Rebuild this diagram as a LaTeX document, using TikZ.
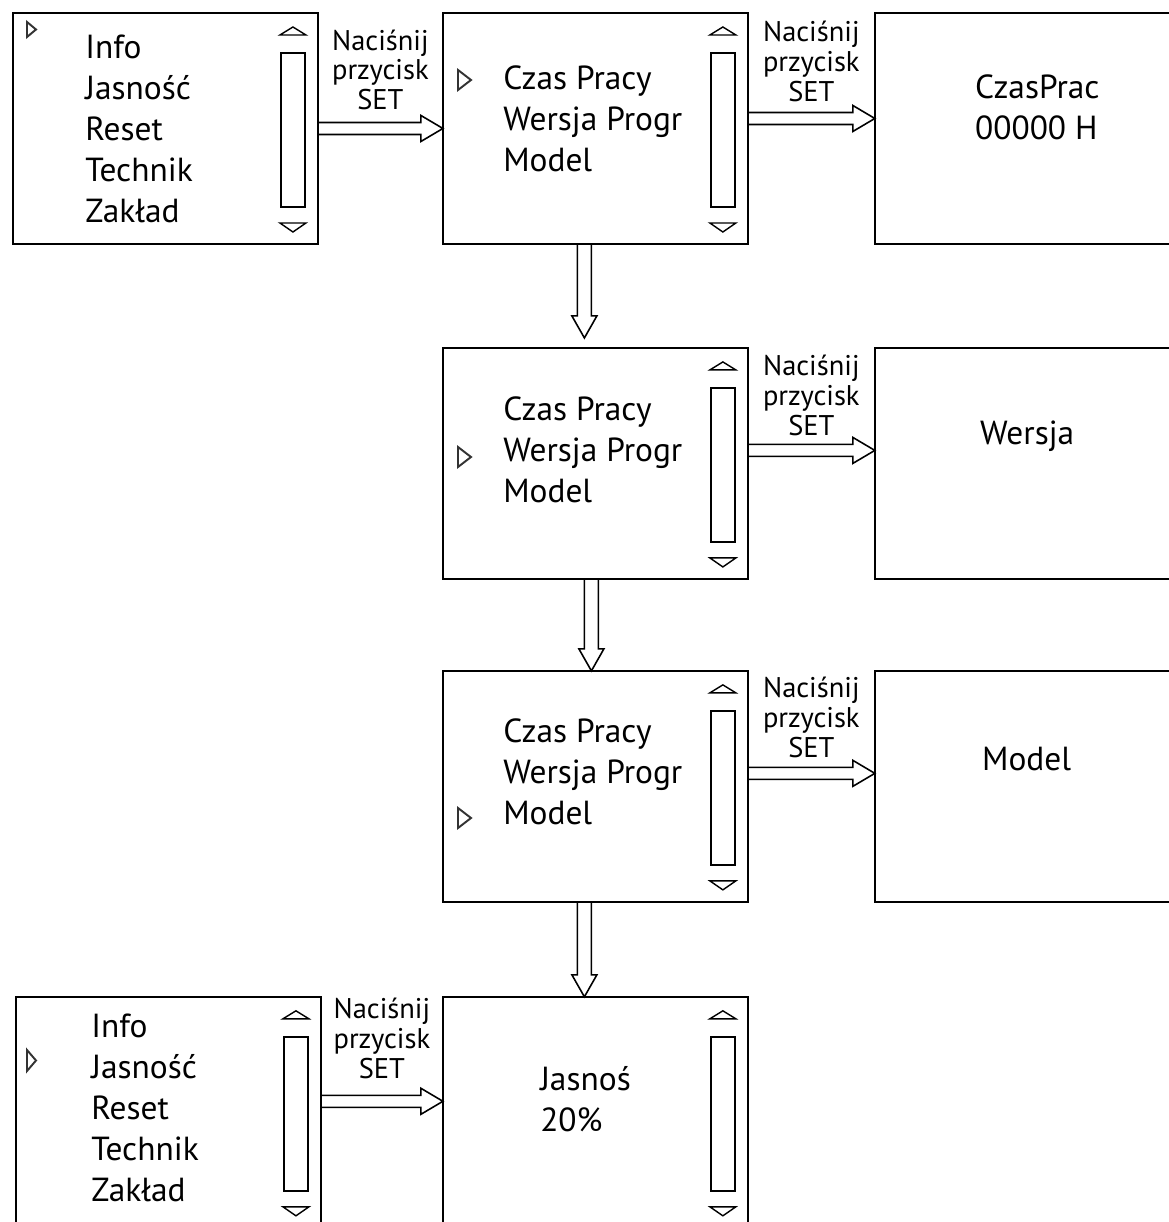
\documentclass[tikz,border=0pt]{standalone}
\usepackage{fontspec}
\setmainfont{PT Sans}
\usetikzlibrary{positioning,calc}

\newcommand{\menufont}{\fontsize{19}{23.25}\selectfont}
\newcommand{\setfont}{\fontsize{16.2}{17}\selectfont}
% scroll bar on the right side of a screen
\newcommand{\scrollbar}[1]{%
  \draw[line width=0.8pt] ($(#1.north east)+(-38,22)$) -- ($(#1.north east)+(-25,14)$)
    -- ($(#1.north east)+(-12,22)$) -- cycle;
  \draw[line width=1.2pt] ($(#1.north east)+(-37,40)$) rectangle ($(#1.north east)+(-13,194)$);
  \draw[line width=0.8pt] ($(#1.north east)+(-38,210)$) -- ($(#1.north east)+(-25,219)$)
    -- ($(#1.north east)+(-12,210)$) -- cycle;
}
% selection marker
\newcommand{\pointer}[4]{\draw[pointer] (#1,#2) -- ++(#3,#4/2) -- ++(-#3,#4/2) -- cycle;}

\begin{document}
\begin{tikzpicture}[x=0.02cm, y=-0.02cm,
  screen/.style={draw, line width=1pt, minimum width=6.1cm, minimum height=4.62cm,
                 inner sep=0pt, outer sep=0pt},
  menu/.style={font=\menufont, align=left, inner sep=0pt, anchor=south west},
  setlabel/.style={font=\setfont, align=center, inner sep=0pt, anchor=south},
  pointer/.style={draw=black!80, line width=1.1pt},
  rarrow/.style={line width=0.9pt, to path={
    (\tikztotarget) coordinate (hd) (\tikztostart) coordinate (tl)
    ($(tl)+(0,-6)$) -- ($(hd)+(-22,-6)$) -- ($(hd)+(-22,-13)$) -- (hd)
    -- ($(hd)+(-22,13)$) -- ($(hd)+(-22,6)$) -- ($(tl)+(0,6)$)}},
  darrow/.style={line width=0.9pt, to path={
    (\tikztotarget) coordinate (hd) (\tikztostart) coordinate (tl)
    ($(tl)+(-7,0)$) -- ($(hd)+(-7,-22)$) -- ($(hd)+(-12.5,-22)$) -- (hd)
    -- ($(hd)+(12.5,-22)$) -- ($(hd)+(7,-22)$) -- ($(tl)+(7,0)$)}}
]
  \path[use as bounding box, fill=white] (0,0) rectangle (1168,1222);

  % screens
  \node[screen, anchor=north west] (screenA) at (13,13) {};
  \node[screen, right=2.5cm of screenA]  (screenB) {};
  \node[screen, right=2.54cm of screenB] (screenC) {};
  \node[screen, below=2.08cm of screenB] (screenD) {};
  \node[screen, right=2.54cm of screenD] (screenE) {};
  \node[screen, below=1.84cm of screenD] (screenF) {};
  \node[screen, right=2.54cm of screenF] (screenG) {};
  \node[screen, below=1.9cm of screenF]  (screenI) {};
  \node[screen, left=2.44cm of screenI]  (screenH) {};

  \scrollbar{screenA}
  \scrollbar{screenB}
  \scrollbar{screenD}
  \scrollbar{screenF}
  \scrollbar{screenH}
  \scrollbar{screenI}

  % screen texts
  \node[menu] (menuA) at ($(screenA.north west)+(72,210)$)
    {Info\\Jasność\\Reset\\Technik\\Zakład};
  \node[menu] (menuB) at ($(screenB.north west)+(60,159)$) {Czas Pracy\\Wersja Progr\\Model};
  \node[menu] (menuD) at ($(screenD.north west)+(60,155)$) {Czas Pracy\\Wersja Progr\\Model};
  \node[menu] (menuF) at ($(screenF.north west)+(60,154)$) {Czas Pracy\\Wersja Progr\\Model};
  \node[menu] (menuH) at ($(screenH.north west)+(75,205)$)
    {Info\\Jasność\\Reset\\Technik\\Zakład};
  \node[menu] (menuC) at ($(screenC.north west)+(100,127)$) {CzasPrac\\00000 H};
  \node[menu, anchor=base west] (menuE) at ($(screenE.north west)+(105,97)$) {Wersja};
  \node[menu, anchor=base west] (menuG) at ($(screenG.north west)+(107,100)$) {Model};
  \node[menu] (menuI) at ($(screenI.north west)+(97,135)$) {Jasnoś\\20\%};

  \pointer{27}{22}{9}{15}
  \pointer{458}{70}{13}{20}
  \pointer{458}{447}{13}{20}
  \pointer{458}{808}{13}{20}
  \pointer{27}{1050}{9}{21}

  % arrows
  \coordinate (pBC) at ($(screenB.east)+(0,-10)$);
  \coordinate (pDE) at ($(screenD.east)+(0,-13)$);
  \coordinate (pFG) at ($(screenF.east)+(0,-13)$);
  \coordinate (pHI) at ($(screenH.east)+(0,-11)$);
  \draw[rarrow] (screenA.east) to (screenA.east -| screenB.west);
  \draw[rarrow] (pBC) to (pBC -| screenC.west);
  \draw[rarrow] (pDE) to (pDE -| screenE.west);
  \draw[rarrow] (pFG) to (pFG -| screenG.west);
  \draw[rarrow] (pHI) to (pHI -| screenI.west);

  \coordinate (pBD) at ($(screenB.south)+(-11,0)$);
  \coordinate (tBD) at ($(screenD.north)+(-11,-10)$);
  \coordinate (pDF) at ($(screenD.south)+(-4,0)$);
  \coordinate (pFI) at ($(screenF.south)+(-11,0)$);
  \draw[darrow] (pBD) to (tBD);
  \draw[darrow] (pDF) to (pDF |- screenF.north);
  \draw[darrow] (pFI) to (pFI |- screenI.north);

  % labels
  \node[setlabel] (setAB) at ($(screenA.east)!0.5!(screenB.west)+(0,-18)$) {Naciśnij\\przycisk\\SET};
  \node[setlabel] (setBC) at ($(screenB.east)!0.5!(screenC.west)+(0,-26.5)$) {Naciśnij\\przycisk\\SET};
  \node[setlabel] (setDE) at ($(screenD.east)!0.5!(screenE.west)+(0,-27)$) {Naciśnij\\przycisk\\SET};
  \node[setlabel] (setFG) at ($(screenF.east)!0.5!(screenG.west)+(0,-28)$) {Naciśnij\\przycisk\\SET};
  \node[setlabel] (setHI) at ($(screenH.east)!0.5!(screenI.west)+(0,-33.5)$) {Naciśnij\\przycisk\\SET};
\end{tikzpicture}
\end{document}
